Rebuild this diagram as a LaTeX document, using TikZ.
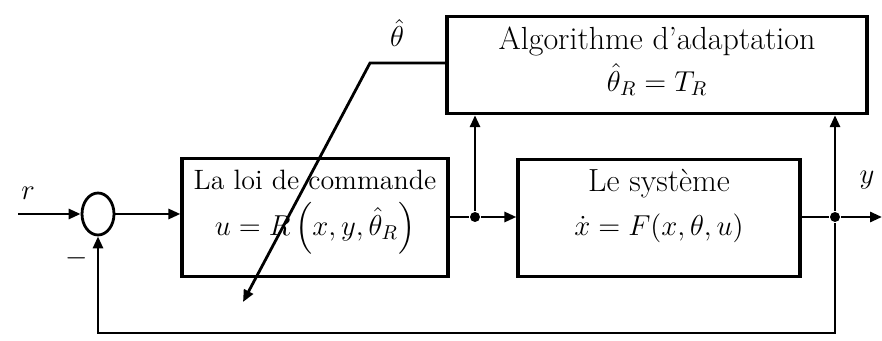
\documentclass[tikz,border=0pt]{standalone}
\usepackage{amsmath}
\usetikzlibrary{arrows.meta,positioning,shapes.geometric}

\begin{document}
\begin{tikzpicture}[x=0.5pt, y=-0.5pt,
  line width=1.4pt,
  blk/.style={draw, line width=1.6pt, align=center, inner xsep=0pt, inner ysep=0pt,
              font=\fontsize{14}{17}\selectfont},
  sumnode/.style={draw, ellipse, line width=1.4pt, minimum width=16pt, minimum height=21pt, inner sep=0pt},
  dot/.style={circle, fill, inner sep=0pt, minimum size=5pt},
  lbl/.style={font=\fontsize{14}{17}\selectfont, inner sep=1pt},
  >={Triangle[length=6pt,width=5pt]}]
\useasboundingbox (0,0) rectangle (882,341);

% blocks
\node[blk, minimum width=133pt, text height=38.5pt, text depth=20.5pt] (law) at (315,157) [anchor=north]
  {La loi de commande\\[6pt] $u = R\left(x, y, \hat{\theta}_R\right)$};
\node[blk, minimum width=141pt, text height=38pt, text depth=20.5pt] (sys) at (659,158) [anchor=north]
  {{\fontsize{16}{19}\selectfont Le syst\`eme}\\[5pt] $\dot{x} = F(x, \theta, u)$};
\node[blk, minimum width=210pt, text height=37.5pt, text depth=11pt] (adapt) at (657,15) [anchor=north]
  {{\fontsize{16}{19}\selectfont Algorithme d'adaptation}\\[3pt] $\hat{\theta}_R = T_R$};

% summing point and junctions
\node[sumnode] (sum) at (98,214) {};
\node[dot] (j1) at (475,217) {};
\node[dot] (j2) at (835,217) {};
\coordinate (rin) at (18,214);
\coordinate (yout) at (882,217);
\coordinate (fb) at (835,333);
\coordinate (knee) at (370,63);
\coordinate (tip) at (243,302);

% labels
\node[lbl] (rlab) at (28,193) {$r$};
\node[lbl] (minus) at (77,258) {$-$};
\node[lbl] (thlab) at (397,33) {$\hat{\theta}$};
\node[lbl] (ylab) at (867,180) {$y$};

% connectors
\draw[->] (rin) -- (sum.west);
\draw[->] (sum.east) -- (sum.east -| law.west);
\draw (law.east |- j1) -- (j1);
\draw[->] (j1) -- (j1 -| sys.west);
\draw[->] (j1) -- (j1 |- adapt.south);
\draw (sys.east |- j2) -- (j2);
\draw[->] (j2) -- (yout);
\draw[->] (j2) -- (j2 |- adapt.south);
\draw[->] (j2) -- (fb) -| (sum.south);
\draw[->] (adapt.west |- knee) -- (knee) -- (tip);
\end{tikzpicture}
\end{document}
